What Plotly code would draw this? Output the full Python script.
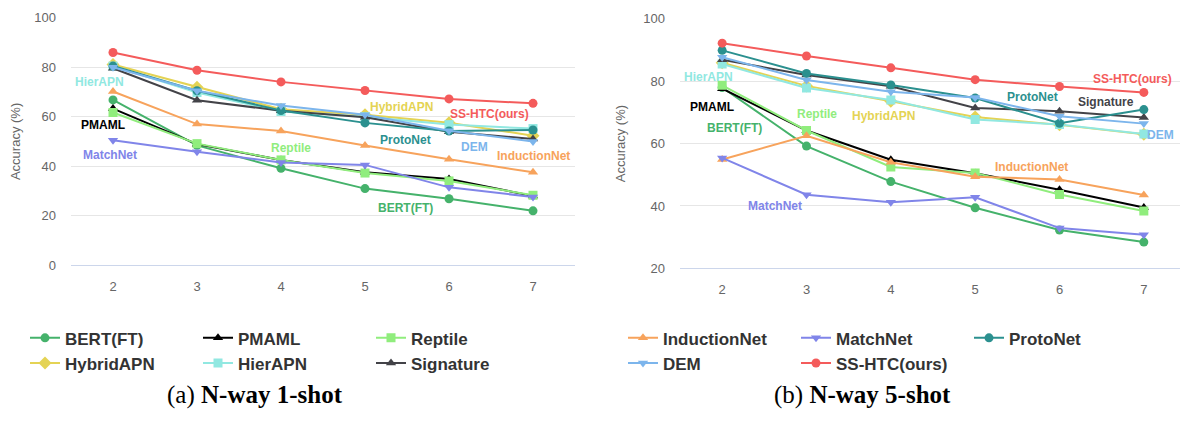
import plotly.graph_objects as go

# ---------------- data ----------------
N_WAY = [2, 3, 4, 5, 6, 7]
SERIES = ["BERT(FT)", "PMAML", "Reptile", "HybridAPN", "HierAPN", "Signature",
          "InductionNet", "MatchNet", "ProtoNet", "DEM", "SS-HTC(ours)"]

# N-way 1-shot
bert_1 = [66.8, 48.4, 39.1, 30.9, 26.8, 21.9]
pmaml_1 = [63.3, 48.9, 42.5, 37.5, 34.8, 27.9]
reptile_1 = [61.7, 49.1, 42.5, 37.2, 34.0, 28.2]
hybrid_1 = [81.1, 71.9, 63.0, 60.8, 57.6, 52.3]
hier_1 = [80.5, 69.8, 62.1, 60.0, 56.8, 55.2]
signature_1 = [79.6, 66.7, 62.4, 59.8, 53.9, 51.0]
induction_1 = [70.2, 57.0, 54.2, 48.3, 42.8, 37.5]
match_1 = [50.5, 45.8, 41.5, 40.5, 31.4, 27.5]
proto_1 = [80.5, 70.5, 62.5, 57.5, 54.2, 54.6]
dem_1 = [80.0, 70.5, 64.5, 60.8, 54.3, 50.0]
ss_1 = [86.0, 78.8, 74.1, 70.6, 67.2, 65.4]

# N-way 5-shot
bert_5 = [78.0, 59.2, 47.8, 39.4, 32.3, 28.4]
pmaml_5 = [77.6, 64.2, 54.8, 50.5, 45.2, 39.5]
reptile_5 = [78.7, 64.2, 52.5, 50.6, 43.7, 38.4]
hybrid_5 = [85.9, 78.5, 73.6, 68.5, 66.0, 63.0]
hier_5 = [85.5, 77.8, 74.0, 67.7, 66.1, 63.1]
signature_5 = [86.9, 82.0, 78.4, 71.4, 70.4, 68.4]
induction_5 = [54.9, 62.5, 54.0, 49.4, 48.5, 43.5]
match_5 = [55.4, 43.6, 41.2, 42.8, 32.9, 30.8]
proto_5 = [89.9, 82.5, 78.8, 74.6, 66.5, 70.9]
dem_5 = [87.7, 80.4, 76.6, 74.8, 68.8, 66.4]
ss_5 = [92.2, 88.1, 84.3, 80.5, 78.3, 76.4]

Y_TICKS_1 = [0, 20, 40, 60, 80, 100]
Y_TICKS_5 = [20, 40, 60, 80, 100]
CAPTION_1 = "(a) <b>N-way 1-shot</b>"
CAPTION_5 = "(b) <b>N-way 5-shot</b>"
Y_TITLE = "Accuracy (%)"

# ---------------- styles ----------------
style = {
    "BERT(FT)": ("#45b26b", "circle"),
    "PMAML": ("#000000", "triangle-up"),
    "Reptile": ("#90ed7d", "square"),
    "HybridAPN": ("#e4d354", "diamond"),
    "HierAPN": ("#91e8e1", "square"),
    "Signature": ("#434348", "triangle-up"),
    "InductionNet": ("#f7a35c", "triangle-up"),
    "MatchNet": ("#8085e9", "triangle-down"),
    "ProtoNet": ("#2b908f", "circle"),
    "DEM": ("#7cb5ec", "triangle-down"),
    "SS-HTC(ours)": ("#f45b5b", "circle"),
}
label_color = dict((k, v[0]) for k, v in style.items())

data_1 = dict(zip(SERIES, [bert_1, pmaml_1, reptile_1, hybrid_1, hier_1, signature_1,
                           induction_1, match_1, proto_1, dem_1, ss_1]))
data_5 = dict(zip(SERIES, [bert_5, pmaml_5, reptile_5, hybrid_5, hier_5, signature_5,
                           induction_5, match_5, proto_5, dem_5, ss_5]))

left_legend = ["BERT(FT)", "PMAML", "Reptile", "HybridAPN", "HierAPN", "Signature"]
right_legend = ["InductionNet", "MatchNet", "ProtoNet", "DEM", "SS-HTC(ours)"]
legend_col = {"BERT(FT)": "a", "HybridAPN": "a", "PMAML": "b", "HierAPN": "b",
              "Reptile": "c", "Signature": "c",
              "InductionNet": "d", "DEM": "d", "MatchNet": "e", "SS-HTC(ours)": "e",
              "ProtoNet": "f"}

draw_order = SERIES

# figure sized to fit inside the page body (8px default body margin)
OFF = 8
FW, FH = 1188 - 2 * OFF, 423 - 2 * OFF

def px_x(s):
    return (s - OFF) / FW

def px_y(s):
    return 1 - (s - OFF) / FH

fig = go.Figure()

for data, xa, ya, leg_names, legname in [
    (data_1, "x", "y", left_legend, "legend"),
    (data_5, "x2", "y2", right_legend, "legend2"),
]:
    for name in draw_order:
        color, sym = style[name]
        show = name in leg_names
        fig.add_trace(go.Scatter(
            x=N_WAY, y=data[name], name=name, mode="lines+markers",
            xaxis=xa, yaxis=ya,
            line=dict(color=color, width=2),
            marker=dict(color=color, symbol=sym, size=9 if sym != "diamond" else 10),
            showlegend=show, legend=legname,
            legendgroup=legend_col[name] if show else None,
        ))

# data labels (positions in data coordinates)
labels_1 = [
    ("HierAPN", 1.845, 74.2), ("PMAML", 1.88, 56.6), ("MatchNet", 1.96, 44.5),
    ("Reptile", 4.12, 47.3), ("HybridAPN", 5.43, 64.1), ("SS-HTC(ours)", 6.48, 60.9),
    ("ProtoNet", 5.48, 50.4), ("DEM", 6.30, 47.7), ("InductionNet", 7.0, 44.1),
    ("BERT(FT)", 5.48, 23.0),
]
labels_5 = [
    ("HierAPN", 1.84, 81.3), ("PMAML", 1.885, 71.7), ("BERT(FT)", 2.146, 64.9),
    ("Reptile", 3.13, 69.5), ("HybridAPN", 3.91, 68.9), ("MatchNet", 2.63, 40.1),
    ("SS-HTC(ours)", 6.87, 80.7), ("ProtoNet", 5.68, 74.8), ("Signature", 6.55, 73.2),
    ("DEM", 7.2, 62.7), ("InductionNet", 5.67, 52.5),
]
for labels, xr, yr in [(labels_1, "x", "y"), (labels_5, "x2", "y2")]:
    for name, lx, ly in labels:
        fig.add_annotation(x=lx, y=ly, xref=xr, yref=yr, text="<b>%s</b>" % name,
                           showarrow=False, xanchor="center", yanchor="middle",
                           font=dict(family="Liberation Sans, Arial, sans-serif",
                                     size=12, color=label_color[name]))

for cap, cx in [(CAPTION_1, 255), (CAPTION_5, 862)]:
    fig.add_annotation(x=px_x(cx), y=px_y(403), xref="paper", yref="paper",
                       text=cap, showarrow=False, xanchor="center", yanchor="middle",
                       font=dict(family="Liberation Serif, Times New Roman, serif",
                                 size=25, color="#000000"))

axis_font = dict(family="Liberation Sans, Arial, sans-serif", size=13, color="#666666")
xcommon = dict(tickvals=N_WAY, showgrid=False, zeroline=False,
               showline=True, linecolor="#ccd6eb", linewidth=1, ticks="",
               tickfont=axis_font, ticklabelstandoff=9)
ycommon = dict(showgrid=True, gridcolor="#e6e6e6", gridwidth=1, zeroline=False,
               showline=False, ticks="", tickfont=axis_font, ticklabelstandoff=14,
               ticklabeloverflow="allow",
               title=dict(text=Y_TITLE, font=axis_font, standoff=14))

# right panel: clip plot area at figure edge, keep category spacing
r_left, r_right_ref, r_edge = 680, 1186, min(1186, OFF + FW)
r_span = (r_right_ref - r_left) / 6.0
r_range_max = 7.5 - (r_right_ref - r_edge) / r_span

fig.update_layout(
    width=FW, height=FH,
    margin=dict(l=0, r=0, t=0, b=0),
    paper_bgcolor="white", plot_bgcolor="white",
    xaxis=dict(domain=[px_x(71), px_x(575)], anchor="y", range=[1.5, 7.5], **xcommon),
    yaxis=dict(domain=[px_y(267.5), px_y(11)], anchor="x", range=[0, 100],
               tickvals=Y_TICKS_1, **ycommon),
    xaxis2=dict(domain=[px_x(r_left), px_x(r_edge)], anchor="y2",
                range=[1.5, r_range_max], **xcommon),
    yaxis2=dict(domain=[px_y(271), px_y(12)], anchor="x2", range=[20, 100],
                tickvals=Y_TICKS_5, **ycommon),
    legend=dict(orientation="h", x=px_x(25), y=px_y(325), xanchor="left", yanchor="top",
                traceorder="grouped", entrywidth=128, tracegroupgap=0,
                font=dict(family="Liberation Sans, Arial, sans-serif", size=17,
                          color="#333333", weight="bold"),
                bgcolor="rgba(0,0,0,0)"),
    legend2=dict(orientation="h", x=px_x(623), y=px_y(325), xanchor="left", yanchor="top",
                 traceorder="grouped", entrywidth=128, tracegroupgap=0,
                 font=dict(family="Liberation Sans, Arial, sans-serif", size=17,
                           color="#333333", weight="bold"),
                 bgcolor="rgba(0,0,0,0)"),
    showlegend=True,
)

fig.write_html("out.html")
